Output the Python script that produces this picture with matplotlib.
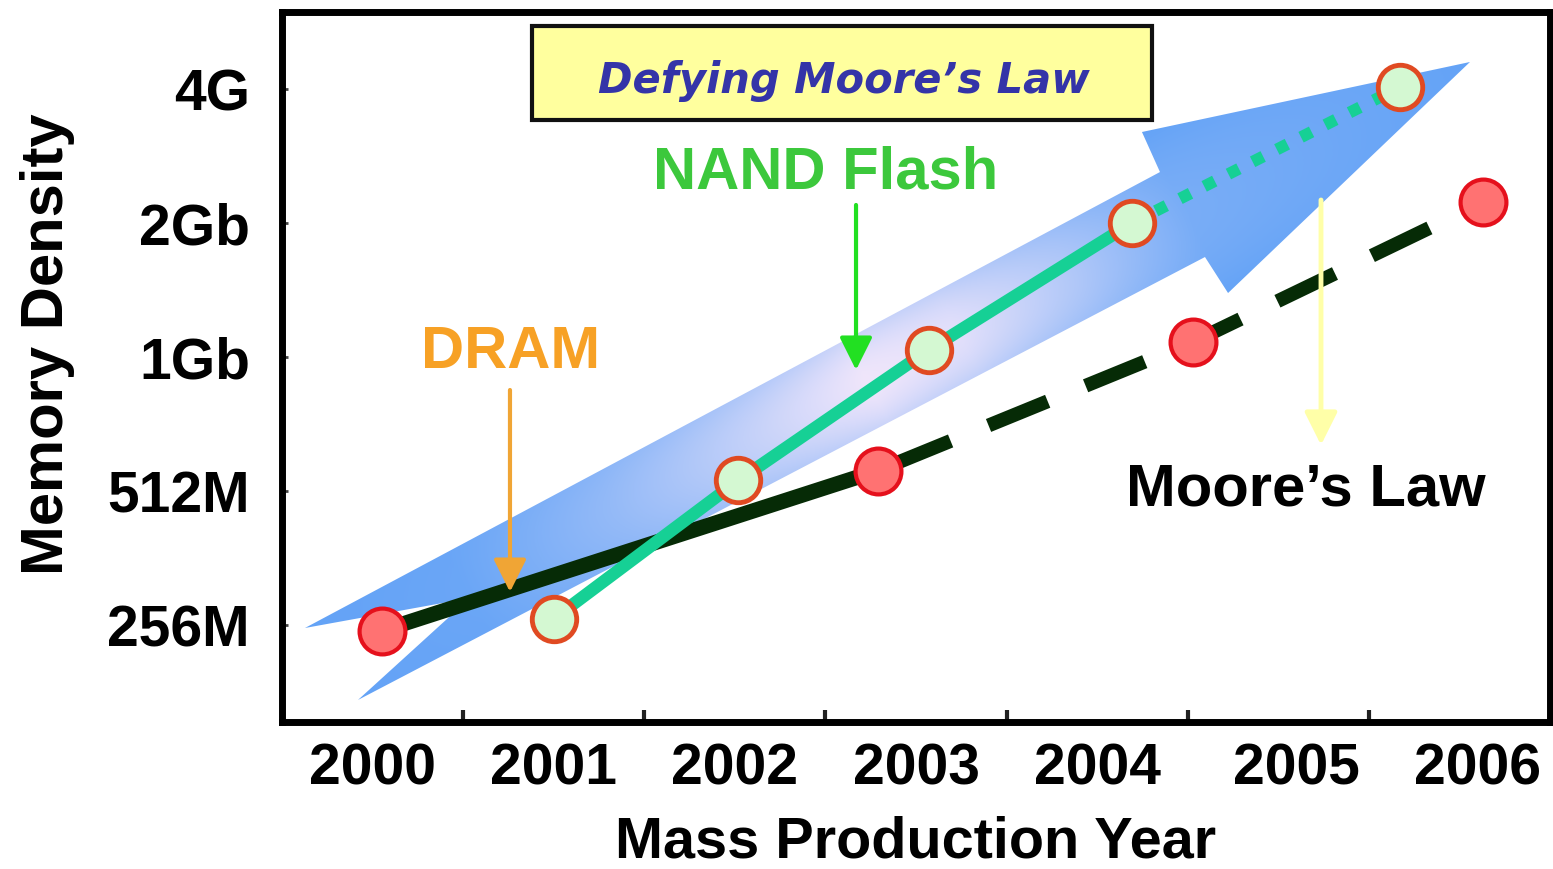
import numpy as np
import matplotlib
matplotlib.use("Agg")
import matplotlib.pyplot as plt
from matplotlib.patches import Polygon, Rectangle
from matplotlib.image import AxesImage
from matplotlib.ticker import FixedLocator, NullFormatter

# ---------------------------------------------------------------- data
# memory density (Mbit) by mass-production year
dram_year = [2000.55, 2003.29, 2005.03, 2006.63]
dram_mbit = [249, 570, 1109, 2284]
dram_solid_until = 2          # points up to here drawn solid, rest projected

nand_year = [2001.50, 2002.52, 2003.57, 2004.69, 2006.17]
nand_mbit = [265, 542, 1064, 2048, 4139]
nand_solid_until = 4

density_ticks = [256, 512, 1024, 2048, 4096]
density_labels = ["256M", "512M", "1Gb", "2Gb", "4G"]

year_labels = ["2000", "2001", "2002", "2003", "2004", "2005", "2006"]
year_edges = [2001, 2002, 2003, 2004, 2005, 2006]

# ---------------------------------------------------------------- style
plt.rcParams["font.family"] = ["Liberation Sans", "DejaVu Sans"]
plt.rcParams["font.weight"] = "bold"

DRAM_LINE = "#062b06"
NAND_LINE = "#16d095"
DRAM_FACE, DRAM_EDGE = "#ff7272", "#e5101c"
NAND_FACE, NAND_EDGE = "#d4f8d2", "#e04a22"

fig = plt.figure(figsize=(15.53, 8.69), dpi=100)
ax = fig.add_axes([0.18158, 0.16916, 0.81649, 0.81703])

ax.set_yscale("log", base=2)
ax.set_xlim(2000, 2007)
ax.set_ylim(155.4, 6104)

# ---------------------------------------------------------------- big gradient arrow
# outline in axes fractions: tail (swallow-tail), shaft, head
arrow_outline = np.array([
    [0.0181, 0.1324],   # upper tail prong
    [0.1483, 0.1746],   # tail notch
    [0.0599, 0.0310],   # lower tail prong
    [0.7279, 0.6549],   # shaft lower edge at head
    [0.7461, 0.6042],   # lower barb
    [0.9369, 0.9296],   # tip
    [0.6782, 0.8310],   # upper barb
    [0.6924, 0.7746],   # shaft upper edge at head
])

pos = ax.get_position()
W = pos.width * fig.get_figwidth() * fig.dpi
H = pos.height * fig.get_figheight() * fig.dpi

ny, nx = 500, 900
FX, FY = np.meshgrid((np.arange(nx) + 0.5) / nx, (np.arange(ny) + 0.5) / ny)
X, Y = FX * W, FY * H
tail = (arrow_outline[0] + arrow_outline[2]) / 2 * [W, H]
tip = arrow_outline[5] * [W, H]
axis_vec = tip - tail
L = np.hypot(*axis_vec)
u = axis_vec / L
nrm = np.array([-u[1], u[0]])
t = ((X - tail[0]) * u[0] + (Y - tail[1]) * u[1]) / L
s = ((X - tail[0]) * nrm[0] + (Y - tail[1]) * nrm[1]) / 46.0

blue = np.array([100, 163, 246]) / 255
pale = np.array([240, 230, 251]) / 255
w = np.interp(t, [0, 0.12, 0.25, 0.38, 0.47, 0.55, 0.65, 0.75, 1.0],
              [0, 0.05, 0.35, 0.72, 1.0, 0.9, 0.55, 0.15, 0])
w = w * np.clip(1 - 0.25 * s ** 2, 0, 1)
rgba = np.ones((ny, nx, 4))
rgba[..., :3] = blue + (pale - blue) * w[..., None]

outline_patch = Polygon(arrow_outline, closed=True, transform=ax.transAxes,
                        facecolor="none", edgecolor="none")
ax.add_patch(outline_patch)
img = AxesImage(ax, extent=(0, 1, 0, 1), origin="lower",
                interpolation="bilinear", zorder=1)
img.set_transform(ax.transAxes)
img.set_data(rgba)
img.set_clip_path(outline_patch)
ax.add_image(img)

# ---------------------------------------------------------------- series
ax.plot(dram_year[:dram_solid_until], dram_mbit[:dram_solid_until],
        color=DRAM_LINE, lw=11, solid_capstyle="butt", zorder=3)
ax.plot(dram_year[dram_solid_until - 1:], dram_mbit[dram_solid_until - 1:],
        color=DRAM_LINE, lw=10, linestyle=(6.5, (4.6, 2.95)),
        dash_capstyle="butt", zorder=3)

ax.plot(nand_year[:nand_solid_until], nand_mbit[:nand_solid_until],
        color=NAND_LINE, lw=9, solid_capstyle="butt", zorder=3)
ax.plot(nand_year[nand_solid_until - 1:], nand_mbit[nand_solid_until - 1:],
        color=NAND_LINE, lw=8.5, linestyle=(0, (1.0, 1.3)),
        dash_capstyle="butt", zorder=3)

ax.plot(dram_year, dram_mbit, linestyle="none", marker="o", ms=33, mew=3,
        mfc=DRAM_FACE, mec=DRAM_EDGE, zorder=4)
ax.plot(nand_year, nand_mbit, linestyle="none", marker="o", ms=32, mew=3.5,
        mfc=NAND_FACE, mec=NAND_EDGE, zorder=4)

# ---------------------------------------------------------------- callouts
def pointer(x, y0, y1, color, lw):
    ax.annotate("", xy=(x, y1), xytext=(x, y0),
                xycoords="axes fraction", textcoords="axes fraction",
                arrowprops=dict(arrowstyle="-|>,head_length=1.0,head_width=0.5",
                                mutation_scale=20, lw=lw, color=color,
                                shrinkA=0, shrinkB=0),
                zorder=5)

pointer(0.1798, 0.4676, 0.1831, "#f0a535", 3)
pointer(0.4527, 0.7282, 0.4958, "#22e022", 3)
pointer(0.8194, 0.7352, 0.3901, "#ffffa8", 3.5)

ax.text(0.1806, 0.4986, "DRAM", transform=ax.transAxes, ha="center",
        va="baseline", fontsize=43, color="#f7a125", zorder=6)
ax.text(0.429, 0.7521, "NAND Flash", transform=ax.transAxes, ha="center",
        va="baseline", fontsize=43, color="#3cc83c", zorder=6)
ax.text(0.8076, 0.3056, "Moore\u2019s Law", transform=ax.transAxes, ha="center",
        va="baseline", fontsize=43, color="black", zorder=6)

ax.add_patch(Rectangle((0.1972, 0.8479), 0.489, 0.1324, transform=ax.transAxes,
                       facecolor="#ffff9e", edgecolor="#111111", lw=3, zorder=5))
ax.text(0.4432, 0.8859, "Defying Moore\u2019s Law", transform=ax.transAxes,
        ha="center", va="baseline", fontsize=30, style="italic",
        fontweight="bold", family="DejaVu Sans", color="#3434a8", zorder=6)

# ---------------------------------------------------------------- axes
for sp in ax.spines.values():
    sp.set_linewidth(5)
    sp.set_color("black")

ax.yaxis.set_major_locator(FixedLocator(density_ticks))
ax.yaxis.set_minor_locator(FixedLocator([]))
ax.set_yticklabels(density_labels)
ax.tick_params(axis="y", which="major", direction="in", length=4, width=2,
               color="#444444", labelsize=41, pad=23)

label_nudge = [0, 0, 0, 0, 0, 0.1, 0.1]
label_pos = [int(lbl) + 0.5 + dx for lbl, dx in zip(year_labels, label_nudge)]
ax.xaxis.set_major_locator(FixedLocator(year_edges))
ax.xaxis.set_major_formatter(NullFormatter())
ax.set_xticks(label_pos, year_labels, minor=True)
ax.tick_params(axis="x", which="major", direction="in", length=9, width=3,
               color="#222222")
ax.tick_params(axis="x", which="minor", length=0, labelsize=41, pad=14.5)

ax.set_ylabel("Memory Density", fontsize=43, fontweight="bold")
ax.yaxis.set_label_coords(-0.163, 0.532)
ax.set_xlabel("Mass Production Year", fontsize=41.5, fontweight="bold")
ax.xaxis.set_label_coords(0.5, -0.131)

fig.savefig("out.png", dpi=100, facecolor="white")
